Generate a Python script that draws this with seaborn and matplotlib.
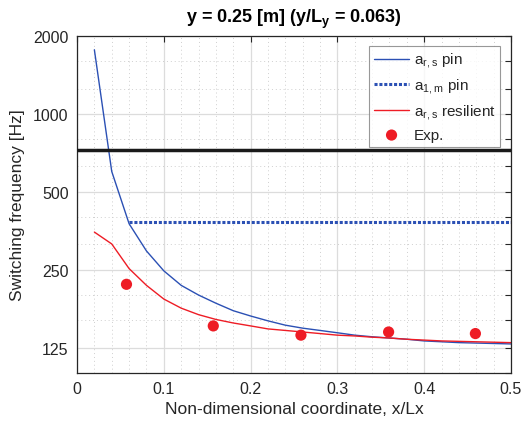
import numpy as np
import pandas as pd
import matplotlib
matplotlib.use("Agg")
import matplotlib.pyplot as plt
import seaborn as sns
from matplotlib.ticker import NullFormatter, FixedLocator, MultipleLocator

# data
x_curve = [0.02, 0.04, 0.06, 0.08, 0.10, 0.12, 0.14, 0.16, 0.18, 0.20, 0.22, 0.24, 0.26,
           0.28, 0.30, 0.32, 0.34, 0.36, 0.38, 0.40, 0.42, 0.44, 0.46, 0.48, 0.50]
ars_pin = [1770, 600, 377, 296, 248, 218, 200, 186, 174, 166, 159, 153, 149,
           146, 143, 140, 138, 136.5, 135, 133, 132, 131, 130.5, 130, 129.5]
ars_resilient = [350, 315, 253, 218, 193, 178, 168, 161, 156, 152, 148, 146, 144,
                 142, 140, 139, 137.5, 136.5, 135, 134, 133, 132.5, 132, 131.5, 131]
x_a1m = [0.06, 0.50]
a1m_pin = [383, 383]
x_exp = [0.057, 0.157, 0.258, 0.359, 0.459]
f_exp = [220, 152, 140, 144, 142]
f_ref = 725  # black horizontal line

yticks = [125, 250, 500, 1000, 2000]
third_oct = [100, 160, 200, 315, 400, 630, 800, 1250, 1600]

sns.set_style("white")
plt.rcParams["font.family"] = ["Liberation Sans", "DejaVu Sans"]
plt.rcParams["mathtext.fontset"] = "custom"
plt.rcParams["mathtext.rm"] = "Liberation Sans"
plt.rcParams["mathtext.bf"] = "Liberation Sans:bold"
txt = "#262626"

fig = plt.figure(figsize=(5.25, 4.27), dpi=100)
ax = fig.add_axes([0.1467, 0.1241, 0.8266, 0.7892])

blue = "#2b50b4"
red = "#ee1c25"
sns.lineplot(x=x_curve, y=ars_pin, ax=ax, color=blue, lw=1.0, label=r"a$_{\mathrm{r,s}}$ pin")
sns.lineplot(x=x_a1m, y=a1m_pin, ax=ax, color=blue, lw=2.2, ls=(0, (1, 0.6)),
             label=r"a$_{\mathrm{1,m}}$ pin")
sns.lineplot(x=x_curve, y=ars_resilient, ax=ax, color=red, lw=1.0,
             label=r"a$_{\mathrm{r,s}}$ resilient")
sns.scatterplot(x=x_exp, y=f_exp, ax=ax, color=red, s=65, edgecolor="none", label="Exp.", zorder=5)
ax.axhline(f_ref, color="#1a1a1a", lw=2.5, zorder=4)

ax.set_yscale("log")
ax.set_xlim(0, 0.5)
ax.set_ylim(100, 2000)
ax.set_yticks(yticks)
ax.set_yticklabels([str(v) for v in yticks])
ax.yaxis.set_minor_locator(FixedLocator(third_oct))
ax.yaxis.set_minor_formatter(NullFormatter())
ax.set_xticks([0, 0.1, 0.2, 0.3, 0.4, 0.5])
ax.set_xticklabels(["0", "0.1", "0.2", "0.3", "0.4", "0.5"])
ax.xaxis.set_minor_locator(MultipleLocator(0.02))

ax.grid(True, which="major", color="#dcdcdc", lw=0.9, ls="-")
ax.grid(True, which="minor", color="#cfcfcf", lw=0.7, ls=(0, (1, 3)))
ax.set_axisbelow(True)

ax.tick_params(which="both", direction="in", top=True, right=True, colors=txt,
               labelsize=11.5, length=4, width=0.8, pad=6)
ax.tick_params(axis="x", which="minor", length=0)
for s in ax.spines.values():
    s.set_color(txt)
    s.set_linewidth(0.9)

ax.set_xlabel("Non-dimensional coordinate, x/Lx", fontsize=12.5, color=txt, labelpad=3)
ax.set_ylabel("Switching frequency [Hz]", fontsize=12.5, color=txt, labelpad=6)
ax.set_title(r"y = 0.25 [m] (y/L$_\mathbf{y}$ = 0.063)", fontsize=13, fontweight="bold",
             color="black", pad=10)

leg = ax.legend(loc="upper right", fontsize=11, frameon=True, fancybox=False,
                edgecolor="#7f7f7f", handlelength=2.3, handletextpad=0.3,
                borderpad=0.3, labelspacing=0.42, borderaxespad=0,
                bbox_to_anchor=(0.9747, 0.9694))
leg.get_frame().set_linewidth(0.8)
leg.set_zorder(10)
for t in leg.get_texts():
    t.set_color(txt)

fig.savefig("out.png", dpi=100)
